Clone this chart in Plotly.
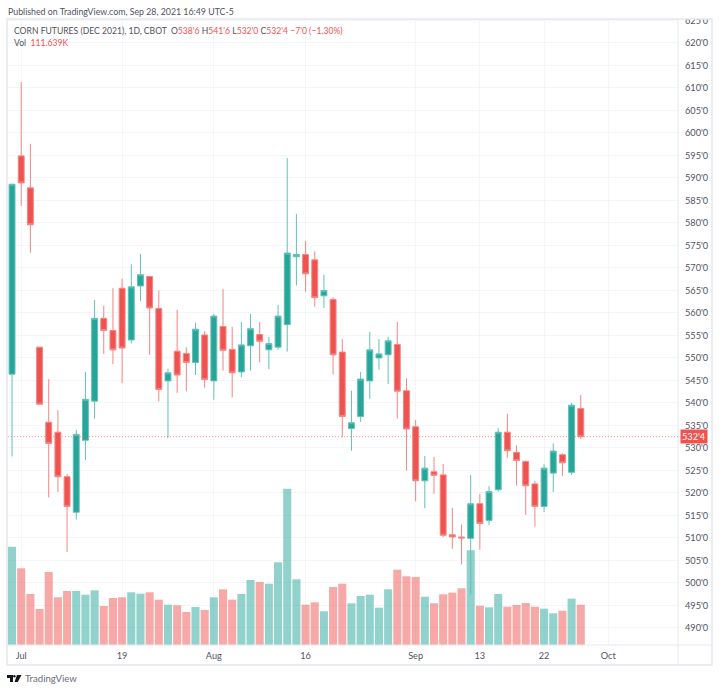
import plotly.graph_objects as go

# trading days from Jun 30 2021, x is the bar index
WIDTH, HEIGHT = 720, 691
LEFT, RIGHT, TOP, BOTTOM = 8, 678, 19, 645

opens = [546.4, 594.9, 587.8, 552.4, 535.7, 533.5, 523.6, 515.7, 531.7, 540.4, 558.8, 556.1, 565.5,
         554.0, 566.0, 568.1, 561.0, 544.9, 551.5, 551.0, 549.0, 555.1, 544.9, 557.0, 551.9, 546.9,
         552.7, 555.2, 551.8, 552.4, 557.4, 572.5, 573.0, 571.8, 563.8, 563.0, 551.3, 534.3, 537.0,
         544.9, 550.0, 550.7, 553.0, 542.7, 534.7, 522.7, 524.7, 524.0, 510.7, 510.2, 509.9, 517.6,
         513.9, 520.7, 533.5, 529.0, 527.0, 522.0, 517.0, 524.4, 528.5, 524.6, 538.75]
closes = [588.6, 588.9, 579.6, 539.7, 531.0, 523.6, 517.0, 533.0, 540.8, 558.8, 556.1, 551.8, 552.2,
          565.8, 568.5, 561.1, 543.0, 546.7, 546.2, 549.0, 556.4, 545.2, 559.3, 551.7, 546.7, 552.9,
          556.5, 553.7, 553.2, 559.3, 573.3, 573.0, 568.7, 563.4, 565.0, 550.7, 537.0, 535.6, 545.3,
          551.8, 550.9, 553.8, 542.6, 534.2, 522.7, 525.5, 523.9, 510.6, 510.2, 510.0, 517.6, 513.2,
          520.3, 533.5, 529.4, 527.2, 521.6, 517.0, 525.5, 529.3, 526.7, 539.5, 532.5]
highs = [588.7, 611.3, 597.6, 552.4, 545.3, 538.4, 524.2, 534.0, 546.9, 562.9, 561.6, 565.5, 567.6,
         570.8, 573.1, 568.2, 565.0, 547.6, 560.7, 552.4, 557.8, 556.0, 559.8, 565.3, 556.9, 558.0,
         559.8, 558.0, 554.7, 561.8, 594.4, 582.0, 576.0, 573.7, 568.5, 563.5, 554.2, 542.7, 546.9,
         555.8, 554.2, 554.7, 558.0, 545.5, 536.2, 528.2, 528.0, 526.4, 516.7, 513.0, 524.0, 519.8,
         521.5, 534.4, 537.6, 530.6, 527.2, 522.7, 526.4, 531.0, 528.8, 540.0, 541.75]
lows = [528.1, 583.8, 573.4, 539.7, 519.0, 520.2, 506.9, 514.1, 527.3, 536.5, 550.9, 548.6, 544.4,
        553.2, 562.7, 550.7, 540.3, 532.2, 542.2, 542.6, 546.2, 543.4, 540.7, 547.2, 541.2, 545.7,
        547.2, 549.0, 547.5, 551.8, 551.4, 566.1, 564.7, 561.4, 561.1, 546.3, 532.4, 529.4, 535.8,
        540.9, 547.4, 544.2, 536.5, 525.0, 518.1, 516.6, 519.8, 510.2, 507.6, 504.1, 497.3, 507.4,
        512.9, 520.3, 527.8, 521.6, 515.1, 512.5, 515.8, 520.2, 523.8, 524.0, 532.0]
volumes = [272.3, 212.5, 141.3, 99.7, 202.2, 132.1, 149.6, 149.6, 139.3, 151.5, 108.0, 130.2, 132.1,
           146.0, 142.1, 146.0, 125.5, 111.6, 110.0, 91.4, 105.3, 97.0, 132.1, 154.3, 125.5, 141.3,
           180.0, 174.5, 169.8, 229.1, 433.0, 182.0, 111.6, 118.3, 93.3, 160.7, 169.8, 115.5, 135.7,
           139.3, 103.3, 154.3, 208.6, 190.3, 188.4, 133.8, 115.5, 140.4, 144.9, 157.1, 262.3, 108.9,
           104.4, 141.3, 106.1, 110.8, 116.3, 106.1, 100.6, 87.8, 95.0, 128.3, 111.639]

x_tick_pos = [1, 12, 22, 32, 44, 51, 58, 65]
x_tick_text = ["Jul", "19", "Aug", "16", "Sep", "13", "22", "Oct"]
price_ticks = list(range(490, 630, 5))
price_labels = [f"{p}'0" for p in price_ticks]

UP = "#26a69a"
DOWN = "#ef5350"
TEXT = "#50535e"
GRID = "#f4f5f9"
FRAME = "#e6e8ef"
FONT = "Lato"


def px(x):
    return (x - LEFT) / (RIGHT - LEFT)


def py(y):
    return (BOTTOM - y) / (BOTTOM - TOP)


days = list(range(len(closes)))
bar_colors = ["rgba(38,166,154,0.5)" if c > o else "rgba(239,83,80,0.5)" for o, c in zip(opens, closes)]

fig = go.Figure()
fig.add_trace(go.Bar(x=days, y=volumes, marker=dict(color=bar_colors, line_width=0), width=0.88, yaxis="y"))
fig.add_trace(go.Candlestick(
    x=days, open=opens, high=highs, low=lows, close=closes, yaxis="y2", whiskerwidth=0,
    increasing=dict(fillcolor=UP, line=dict(color="#62c0b7", width=1)),
    decreasing=dict(fillcolor=DOWN, line=dict(color="#f58583", width=1)),
))

shapes = [
    # hides the top of the clipped 625'0 label, like the original pane edge
    dict(type="rect", xref="paper", yref="paper", x0=px(RIGHT), x1=px(712), y0=py(TOP), y1=py(0),
         fillcolor="white", line_width=0, layer="above"),
    dict(type="rect", xref="paper", yref="paper", x0=px(7), x1=px(712), y0=py(19), y1=py(665),
         line=dict(color=FRAME, width=1.5), layer="above"),
    dict(type="line", xref="paper", yref="paper", x0=px(RIGHT), x1=px(RIGHT), y0=py(19), y1=py(665),
         line=dict(color=FRAME, width=1), layer="above"),
    dict(type="line", xref="paper", yref="paper", x0=px(7), x1=px(712), y0=py(645), y1=py(645),
         line=dict(color=FRAME, width=1), layer="above"),
    dict(type="line", xref="paper", yref="y2", x0=0, x1=1, y0=closes[-1], y1=closes[-1],
         line=dict(color="rgba(239,83,80,0.6)", width=1, dash="1px,2px"), layer="above"),
    # TradingView logo
    dict(type="path", xref="paper", yref="paper", layer="above", line_width=0, fillcolor="#131722",
         path=f"M {px(7)} {py(675)} L {px(13)} {py(675)} L {px(13)} {py(682)} L {px(10)} {py(682)} "
              f"L {px(10)} {py(678)} L {px(7)} {py(678)} Z"),
    dict(type="circle", xref="paper", yref="paper", layer="above", line_width=0, fillcolor="#131722",
         x0=px(13.2), x1=px(15.6), y0=py(675), y1=py(677.4)),
    dict(type="path", xref="paper", yref="paper", layer="above", line_width=0, fillcolor="#131722",
         path=f"M {px(17)} {py(675)} L {px(21.5)} {py(675)} L {px(17.8)} {py(682)} L {px(14.5)} {py(682)} Z"),
]

red = lambda s: f'<span style="color:{DOWN}">{s}</span>'
annotations = [
    dict(text="Published on TradingView.com, Sep 28, 2021 16:49 UTC-5", x=px(7), y=py(11),
         font=dict(size=8.8, color=TEXT)),
    dict(text="CORN FUTURES (DEC 2021), 1D, CBOT&nbsp;&nbsp;O" + red("538'6") + " H" + red("541'6")
              + " L" + red("532'0") + " C" + red("532'4") + " " + red("−7'0 (−1.30%)"),
         x=px(13), y=py(30.5), font=dict(size=8.6, color=TEXT)),
    dict(text="Vol&nbsp;&nbsp;" + red("111.639K"), x=px(13), y=py(43), font=dict(size=8.6, color=TEXT)),
    dict(text="TradingView", x=px(24), y=py(678.5), font=dict(size=9.6, color="#6a6d78")),
]
annotations = [dict(a, xref="paper", yref="paper", xanchor="left", yanchor="middle", showarrow=False,
                    borderpad=0) for a in annotations]
annotations.append(dict(text="532'4", xref="paper", yref="y2", x=px(680), y=closes[-1], xanchor="left",
                        yanchor="middle", showarrow=False, bgcolor=DOWN, borderpad=1,
                        font=dict(size=9.2, color="white")))

fig.update_layout(
    width=WIDTH, height=HEIGHT,
    margin=dict(l=LEFT, r=WIDTH - RIGHT, t=TOP, b=HEIGHT - BOTTOM, pad=0),
    paper_bgcolor="white", plot_bgcolor="white",
    showlegend=False, boxgap=0.08,
    font=dict(family=FONT, size=9.2, color=TEXT),
    xaxis=dict(range=[-0.44, 72.6], tickmode="array", tickvals=x_tick_pos, ticktext=x_tick_text,
               showgrid=True, gridcolor=GRID, gridwidth=1, zeroline=False, showline=False, ticks="",
               rangeslider_visible=False, ticklabelstandoff=4),
    yaxis=dict(range=[0, 1734], visible=False),
    yaxis2=dict(range=[486.2, 625.33], overlaying="y", side="right", anchor="x", tickmode="array",
                tickvals=price_ticks, ticktext=price_labels, showgrid=True, gridcolor=GRID, gridwidth=1,
                zeroline=False, showline=False, ticks="", ticklabelstandoff=6),
    shapes=shapes, annotations=annotations,
)

fig.write_html("out.html", config={"displayModeBar": False},
               post_script="document.body.style.margin='0';")
